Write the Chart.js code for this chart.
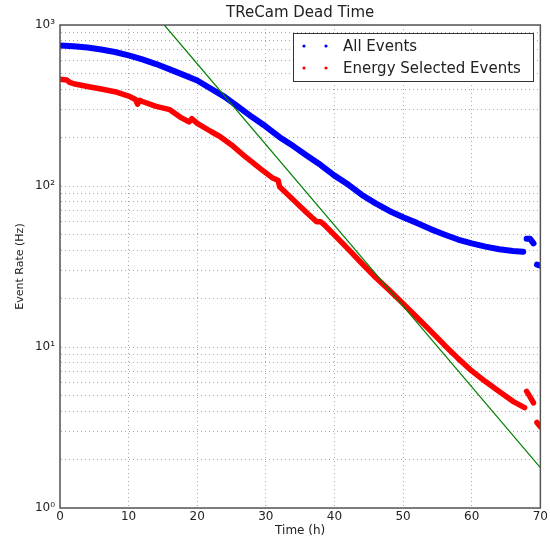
<!DOCTYPE html>
<html>
<head>
<meta charset="utf-8">
<script src="https://cdn.jsdelivr.net/npm/chart.js@4.4.1/dist/chart.umd.min.js"></script>
<style>
html, body { margin: 0; padding: 0; background: #fff; }
#wrap { width: 550px; height: 536px; }
</style>
</head>
<body>
<div id="wrap"><canvas id="myChart"></canvas></div>
<script>
// values (null = gap in the data)
var allHours = [0, 2, 4, 6, 8, 10, 12, 14, 16, 18, 20, 22, 24, 26, 28, 30, 32, 34, 36, 38, 40, 42, 44, 46, 48, 50, 52, 54, 56, 58, 60, 62, 64, 66, 67.5, 67.8, 68, 68.5, 69, 69.2, 69.5, 70];
var allRate  = [745, 738, 725, 705, 680, 648, 612, 572, 530, 490, 452, 402, 358, 310, 268, 234, 201, 177, 154, 135, 116, 102, 88, 78, 70, 64, 59, 54, 50, 46.5, 44, 42, 40.5, 39.5, 39, null, 47, 47, 44, null, 32.5, 32];

var selHours = [0, 1, 1.5, 2, 4, 6, 8, 10, 11, 11.3, 11.6, 12, 14, 16, 17.5, 18.8, 19.2, 20, 22, 23.3, 25, 27, 29, 31, 31.8, 32, 34, 36, 37.4, 38, 38.6, 40, 42, 44, 46, 48, 50, 52, 54, 56, 58, 60, 62, 64, 66, 67.7, 67.9, 68, 68.5, 69, 69.2, 69.5, 70];
var selRate  = [460, 455, 438, 432, 415, 400, 385, 362, 345, 322, 340, 335, 312, 298, 268, 250, 262, 245, 218, 203, 180, 152, 130, 112, 108, 99, 82, 68, 60, 60, 57, 49.5, 40.5, 33, 27, 22.5, 18.6, 15.3, 12.6, 10.3, 8.5, 7.1, 6.1, 5.3, 4.6, 4.2, null, 5.3, 4.9, 4.5, null, 3.4, 3.2];

var fitHours = [15.2, 70];
var fitRate  = [1000, 1.78];

var xTicks = [0, 10, 20, 30, 40, 50, 60, 70];
var yTicks = [1, 2, 3, 4, 5, 6, 7, 8, 9, 10, 20, 30, 40, 50, 60, 70, 80, 90, 100, 200, 300, 400, 500, 600, 700, 800, 900, 1000];
var yLabels = { 1: '10\u2070', 10: '10\u00b9', 100: '10\u00b2', 1000: '10\u00b3' };

function toPoints(xs, ys) {
  return xs.map(function (x, i) { return { x: x, y: ys[i] }; });
}

var textColor = '#222';
var gridColor = '#a8a8a8';

var framePlugin = {
  id: 'frame',
  afterDraw: function (chart) {
    var ctx = chart.ctx;
    var a = chart.chartArea;
    ctx.save();
    // axes box
    ctx.strokeStyle = '#555';
    ctx.lineWidth = 1.5;
    ctx.strokeRect(a.left, a.top, a.right - a.left, a.bottom - a.top);

    // title
    ctx.fillStyle = textColor;
    ctx.font = '15px "DejaVu Sans"';
    ctx.textAlign = 'center';
    ctx.textBaseline = 'middle';
    ctx.fillText('TReCam Dead Time', (a.left + a.right) / 2, 13);

    // legend, matplotlib style with two dots per entry
    var lx = 293, ly = 33, lw = 240, lh = 48;
    ctx.fillStyle = '#fff';
    ctx.fillRect(lx, ly, lw, lh);
    ctx.strokeStyle = '#333';
    ctx.lineWidth = 1;
    ctx.strokeRect(lx + 0.5, ly + 0.5, lw, lh);
    ctx.font = '15px "DejaVu Sans"';
    ctx.textAlign = 'left';
    var items = [chart.data.datasets[2], chart.data.datasets[1]];
    items.forEach(function (ds, i) {
      var y = ly + 13 + i * 22;
      ctx.fillStyle = ds.borderColor;
      [lx + 11, lx + 33].forEach(function (x) {
        ctx.beginPath();
        ctx.arc(x, y, 1.6, 0, Math.PI * 2);
        ctx.fill();
      });
      ctx.fillStyle = textColor;
      ctx.fillText(ds.label, lx + 50, y + 1);
    });
    ctx.restore();
  }
};

var ctx = document.getElementById('myChart').getContext('2d');
var config = {
  type: 'line',
  data: {
    datasets: [{
      label: 'fit',
      data: toPoints(fitHours, fitRate),
      borderColor: '#008000',
      borderWidth: 1.2,
      pointRadius: 0,
      order: 0
    }, {
      label: 'Energy Selected Events',
      data: toPoints(selHours, selRate),
      borderColor: '#ff0000',
      borderWidth: 5.5,
      pointRadius: 0,
      borderCapStyle: 'round',
      borderJoinStyle: 'round',
      spanGaps: false,
      order: 1
    }, {
      label: 'All Events',
      data: toPoints(allHours, allRate),
      borderColor: '#0000ff',
      borderWidth: 6,
      pointRadius: 0,
      borderCapStyle: 'round',
      borderJoinStyle: 'round',
      spanGaps: false,
      order: 2
    }]
  },
  options: {
    responsive: true,
    maintainAspectRatio: false,
    animation: false,
    layout: { padding: { top: 25, right: 9, left: 0, bottom: 0 } },
    plugins: {
      legend: { display: false },
      tooltip: { enabled: false }
    },
    scales: {
      x: {
        type: 'linear',
        min: 0,
        max: 70,
        afterBuildTicks: function (scale) {
          scale.ticks = xTicks.map(function (v) { return { value: v }; });
        },
        afterFit: function (scale) { scale.height = 28; },
        grid: { color: gridColor, lineWidth: 1, drawTicks: false },
        border: { display: true, color: 'rgba(0,0,0,0)', dash: [1, 3] },
        ticks: { color: textColor, font: { family: 'DejaVu Sans', size: 12 }, padding: 2, maxRotation: 0 },
        title: { display: true, text: 'Time (h)', color: textColor, font: { family: 'DejaVu Sans', size: 12 }, padding: { top: 0, bottom: -2 } }
      },
      y: {
        type: 'logarithmic',
        min: 1,
        max: 1000,
        afterBuildTicks: function (scale) {
          scale.ticks = yTicks.map(function (v) { return { value: v, major: !!yLabels[v] }; });
        },
        afterFit: function (scale) { scale.width = 60; },
        grid: { color: gridColor, lineWidth: 1, drawTicks: false },
        border: { display: true, color: 'rgba(0,0,0,0)', dash: [1, 3] },
        ticks: {
          color: textColor,
          font: { family: 'DejaVu Sans', size: 12 },
          padding: 5,
          autoSkip: false,
          callback: function (v) { return yLabels[v] || ''; }
        },
        title: { display: true, text: 'Event Rate (Hz)', color: textColor, font: { family: 'DejaVu Sans', size: 11 }, padding: { top: 14, bottom: 0 } }
      }
    }
  },
  plugins: [framePlugin]
};

var chart = new Chart(ctx, config);
</script>
</body>
</html>
